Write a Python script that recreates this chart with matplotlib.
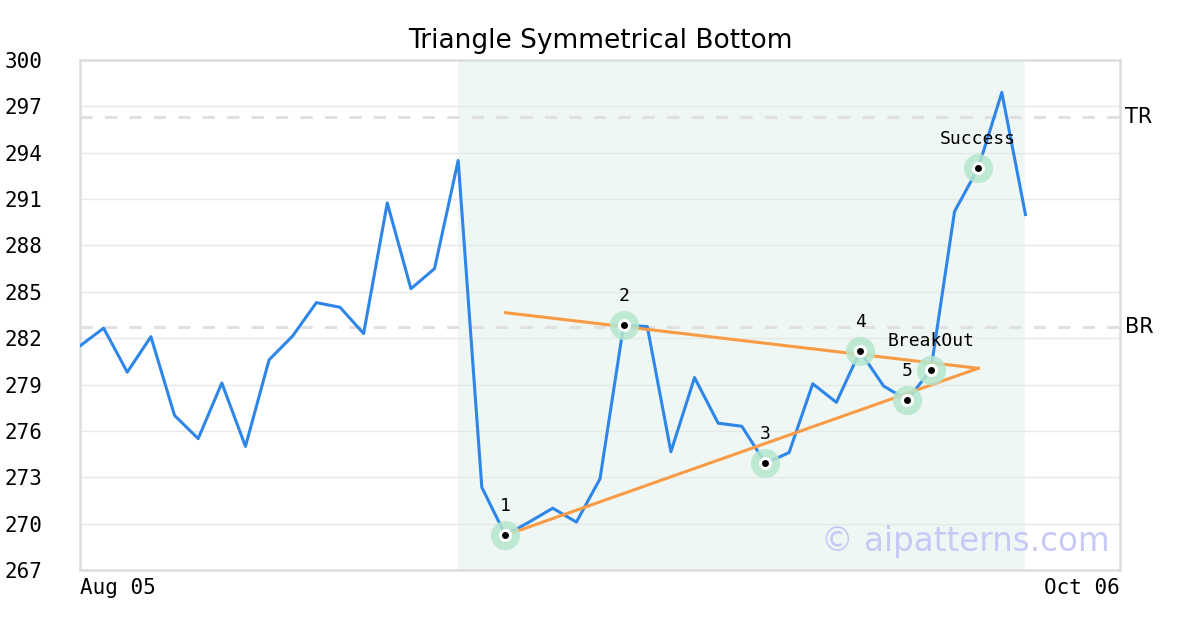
import numpy as np
import matplotlib
matplotlib.use("Agg")
import matplotlib.pyplot as plt

# ---- data ----
prices = [281.5, 282.65, 279.8, 282.1, 277.0, 275.5, 279.1, 275.0, 280.6, 282.15,
          284.3, 284.0, 282.3, 290.75, 285.2, 286.5, 293.5, 272.35, 269.25, 270.1,
          271.0, 270.1, 272.9, 282.85, 282.75, 274.65, 279.45, 276.5, 276.3, 273.9,
          274.6, 279.05, 277.85, 281.15, 278.9, 278.0, 279.95, 290.2, 293.0, 297.9,
          290.0]
x_labels = ["Aug 05", "Oct 06"]
x_label_pos = [0, 44]
y_ticks = [267, 270, 273, 276, 279, 282, 285, 288, 291, 294, 297, 300]

pattern_start, pattern_end = 16, 40
tr_level, br_level = 296.3, 282.75

upper_x, upper_y = [18, 38], [283.65, 280.05]
lower_x, lower_y = [18, 38], [269.25, 280.05]

point_idx = [18, 23, 29, 33, 35, 36, 38]
point_text = ["1", "2", "3", "4", "5", "BreakOut", "Success"]

# ---- figure ----
fig = plt.figure(figsize=(12, 6.3), dpi=100)
ax = fig.add_axes([80/1200, 60/630, 1040/1200, 510/630])

ax.axvspan(pattern_start, pattern_end, color="#eef7f3", zorder=0, lw=0)
ax.set_xlim(0, 44)
ax.set_ylim(267, 300)
ax.set_yticks(y_ticks)
ax.grid(axis="y", color="#e8e8e8", lw=1.0, zorder=0.5)
ax.set_axisbelow(True)

for lvl in (tr_level, br_level):
    ax.axhline(lvl, color="#e0e0e0", lw=2.2, dashes=(4, 4), zorder=1)

x = np.arange(len(prices))
ax.plot(x, prices, color="#2e86e8", lw=2.2, zorder=3)
ax.plot(upper_x, upper_y, color="#f99b45", lw=2.2, zorder=4)
ax.plot(lower_x, lower_y, color="#f99b45", lw=2.2, zorder=4)

px = np.array(point_idx)
py = np.array([prices[i] for i in point_idx])
ax.scatter(px, py, s=21**2, color="#b5e6cd", alpha=0.85, lw=0, zorder=5)
ax.scatter(px, py, s=9.5**2, color="white", lw=0, zorder=6)
ax.scatter(px, py, s=5**2, color="black", lw=0, zorder=7)

for i, t in zip(point_idx, point_text):
    ax.annotate(t, (i, prices[i]), xytext=(0, 21), textcoords="offset points",
                ha="center", va="center", fontsize=13, family="DejaVu Sans Mono",
                zorder=8)

ax.text(44.2, tr_level, "TR", fontsize=15, va="center", ha="left")
ax.text(44.2, br_level, "BR", fontsize=15, va="center", ha="left")

ax.text(0.99, 0.055, "© aipatterns.com", transform=ax.transAxes, ha="right",
        va="center", fontsize=23.5, color="#c9c9f8", zorder=9)

ax.set_title("Triangle Symmetrical Bottom", fontsize=19, pad=9)

ax.set_xticks(x_label_pos)
ax.set_xticklabels(x_labels, family="DejaVu Sans Mono", fontsize=15)
ax.get_xticklabels()[0].set_ha("left")
ax.get_xticklabels()[1].set_ha("right")
for lab in ax.get_yticklabels():
    lab.set_family("DejaVu Sans Mono")
    lab.set_fontsize(15)
    lab.set_ha("left")
ax.tick_params(axis="y", length=0, pad=54)
ax.tick_params(axis="x", length=0, pad=6)

for s in ax.spines.values():
    s.set_color("#dddddd")
    s.set_linewidth(1.8)

fig.savefig("out.png", dpi=100)
